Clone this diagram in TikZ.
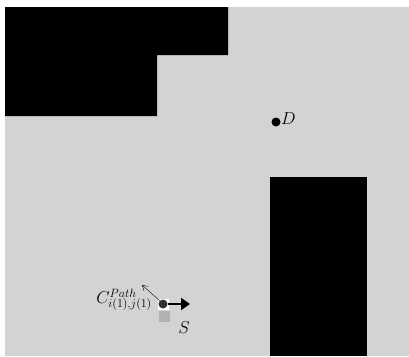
\documentclass[tikz,border=0pt]{standalone}
\usetikzlibrary{arrows.meta}
\definecolor{bgray}{RGB}{211,211,211}
\definecolor{sqgray}{RGB}{178,178,178}
\definecolor{dotgray}{RGB}{50,50,50}
\begin{document}
\begin{tikzpicture}[x=1pt,y=-1pt,
  obstacle/.style={fill=black,draw=none},
  dot/.style={circle,fill=black,inner sep=0pt,minimum size=9pt},
  lbl/.style={inner sep=1pt,font=\fontsize{17}{20}\selectfont}]
\useasboundingbox (0,0) rectangle (409,356);
\fill[white] (0,0) rectangle (409,356);
\fill[bgray] (5,7) rectangle (409,356);
% obstacles
\fill[obstacle] (5,7) -- (228,7) -- (228,55) -- (157,55) -- (157,116) -- (5,116) -- cycle;
\fill[obstacle] (270,177) rectangle (367,356);
% destination
\node[dot] (D) at (276,122) {};
\node[lbl,anchor=south west] (Dl) at (280,126) {$D$};
% source cell
\node[fill=sqgray,minimum size=11pt,inner sep=0pt] (sq) at (164,316) {};
\node[fill=white,minimum size=11pt,inner sep=0pt] (wsq) at (163.5,304) {};
\node[dot,fill=dotgray,minimum size=9pt] (S) at (163,304) {};
\node[lbl] (Sl) at (184,328) {$S$};
\coordinate (ahead) at (190,304);
\draw[line width=2.8pt,-{Triangle[length=9pt,width=12pt]}] (S.east) -- (ahead);
\coordinate (tip) at (142,285);
\draw[thin,-{Straight Barb[length=5pt,width=6pt]}] (S.north west) -- (tip);
\node[inner sep=0pt,anchor=east,font=\fontsize{18}{20}\selectfont] (Cl) at (152,300) {$C^{\scriptstyle Path}_{i(1),j(1)}$};
\end{tikzpicture}
\end{document}
